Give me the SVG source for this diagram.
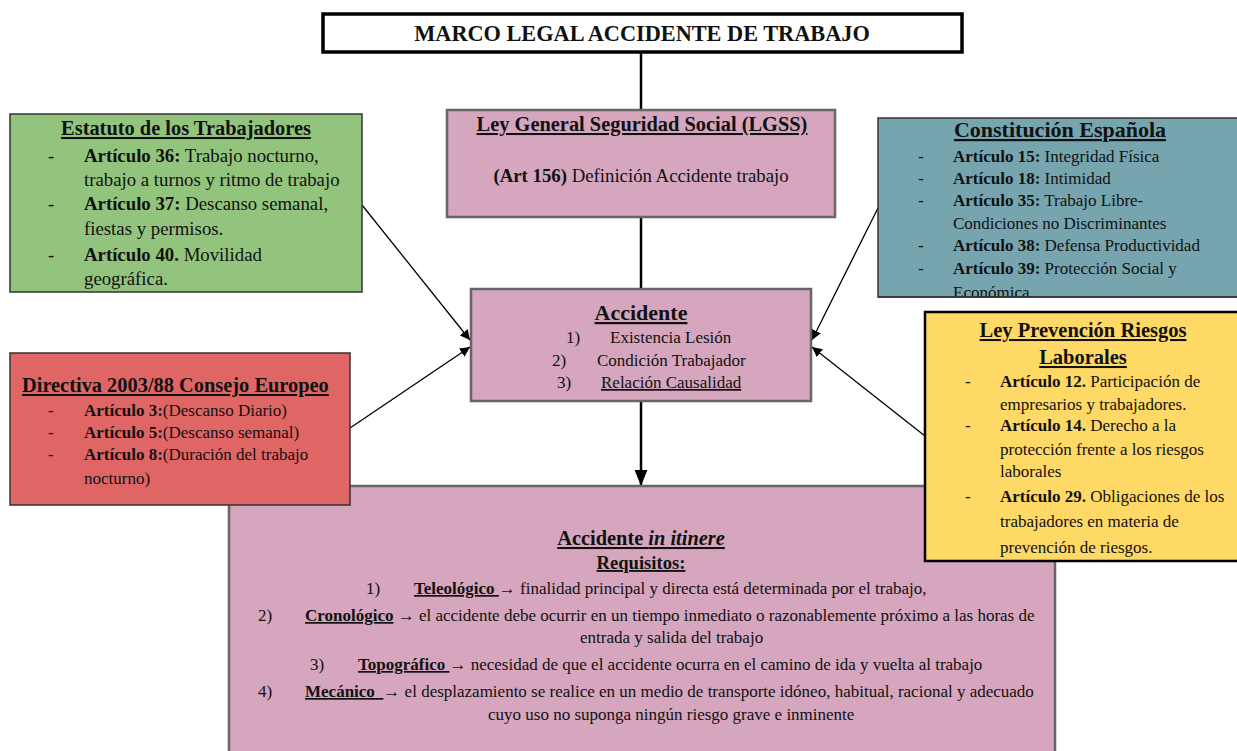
<svg xmlns="http://www.w3.org/2000/svg" width="1237" height="751" viewBox="0 0 1237 751">
<style>
text{font-family:"Liberation Serif","Times New Roman",serif;fill:#111;}
.b{font-weight:bold;}
.u{text-decoration:underline;}
.t19{font-size:18.8px;}
.t17{font-size:17px;}
.pink{fill:#d5a6bd;stroke:#666;stroke-width:2.5;}
.con{stroke:#000;stroke-width:1.3;fill:none;}
.thick{stroke:#000;stroke-width:2.5;fill:none;}
</style>
<defs>
<marker id="ah" viewBox="0 0 10 10" refX="10" refY="5" markerWidth="10" markerHeight="10" markerUnits="userSpaceOnUse" orient="auto">
<path d="M0,0 L10,5 L0,10 z" fill="#000"/>
</marker>
<marker id="ahb" viewBox="0 0 10 10" refX="10" refY="5" markerWidth="16" markerHeight="16" markerUnits="userSpaceOnUse" orient="auto">
<path d="M0,1 L10,5 L0,9 z" fill="#000"/>
</marker>
<clipPath id="clipBlue"><rect x="878" y="118" width="362" height="179"/></clipPath>
</defs>

<g id="connectors">
<line class="thick" x1="641" y1="52" x2="641" y2="110"/>
<line class="thick" x1="641" y1="217" x2="641" y2="289"/>
<line class="thick" x1="641" y1="401" x2="641" y2="486" marker-end="url(#ahb)"/>
<line class="con" x1="362" y1="205" x2="470" y2="340" marker-end="url(#ah)"/>
<line class="con" x1="350" y1="428" x2="470" y2="347" marker-end="url(#ah)"/>
<line class="con" x1="878" y1="208" x2="812" y2="340" marker-end="url(#ah)"/>
<line class="con" x1="925" y1="436" x2="812" y2="347" marker-end="url(#ah)"/>
</g>

<g id="title">
<rect x="323" y="14" width="639" height="38" fill="#fff" stroke="#000" stroke-width="3.5"/>
<text x="642" y="41" text-anchor="middle" class="b" font-size="22.3">MARCO LEGAL ACCIDENTE DE TRABAJO</text>
</g>

<g id="lgss">
<rect class="pink" x="447" y="110" width="388" height="107"/>
<text x="642" y="131" text-anchor="middle" class="b u" font-size="20.4">Ley General Seguridad Social (LGSS)</text>
<text x="641" y="182" text-anchor="middle" class="t19"><tspan class="b">(Art 156)</tspan> Definición Accidente trabajo</text>
</g>

<g id="accidente">
<rect class="pink" x="471" y="289" width="340" height="112"/>
<text x="641" y="320" text-anchor="middle" class="b u" font-size="22">Accidente</text>
<text x="566" y="343" class="t17">1)</text>
<text x="610" y="343" class="t17">Existencia Lesión</text>
<text x="552" y="366" class="t17">2)</text>
<text x="597" y="366" class="t17">Condición Trabajador</text>
<text x="557" y="388" class="t17">3)</text>
<text x="601" y="388" class="t17 u">Relación Causalidad</text>
</g>

<g id="itinere">
<rect class="pink" x="229" y="486" width="826" height="270"/>
<text x="641" y="545" text-anchor="middle" class="b u" font-size="20.4">Accidente <tspan font-style="italic">in itinere</tspan></text>
<text x="641" y="569" text-anchor="middle" class="b u" font-size="18.6">Requisitos:</text>
<text x="366" y="594" class="t17">1)</text>
<text x="414" y="594" class="t17" xml:space="preserve"><tspan class="b u">Teleológico </tspan>→ finalidad principal y directa está determinada por el trabajo,</text>
<text x="258" y="621" class="t17">2)</text>
<text x="305" y="621" class="t17"><tspan class="b u">Cronológico</tspan> → el accidente debe ocurrir en un tiempo inmediato o razonablemente próximo a las horas de</text>
<text x="580" y="643" class="t17">entrada y salida del trabajo</text>
<text x="310" y="670" class="t17">3)</text>
<text x="358" y="670" class="t17" xml:space="preserve"><tspan class="b u">Topográfico </tspan>→ necesidad de que el accidente ocurra en el camino de ida y vuelta al trabajo</text>
<text x="258" y="697" class="t17">4)</text>
<text x="305" y="697" class="t17" xml:space="preserve"><tspan class="b u">Mecánico  </tspan>→ el desplazamiento se realice en un medio de transporte idóneo, habitual, racional y adecuado</text>
<text x="488" y="720" class="t17">cuyo uso no suponga ningún riesgo grave e inminente</text>
</g>

<g id="estatuto">
<rect x="10" y="114" width="352" height="178" fill="#93c47d" stroke="#333" stroke-width="1.5"/>
<text x="186" y="135" text-anchor="middle" class="b u" font-size="20.4">Estatuto de los Trabajadores</text>
<text x="48" y="162" class="t19">-</text>
<text x="84" y="162" class="t19"><tspan class="b">Artículo 36:</tspan> Trabajo nocturno,</text>
<text x="84" y="186" class="t19">trabajo a turnos y ritmo de trabajo</text>
<text x="48" y="210" class="t19">-</text>
<text x="84" y="210" class="t19"><tspan class="b">Artículo 37:</tspan> Descanso semanal,</text>
<text x="84" y="235" class="t19">fiestas y permisos.</text>
<text x="48" y="261" class="t19">-</text>
<text x="84" y="261" class="t19"><tspan class="b">Artículo 40.</tspan> Movilidad</text>
<text x="84" y="285" class="t19">geográfica.</text>
</g>

<g id="constitucion">
<rect x="878" y="118" width="362" height="179" fill="#76a5af" stroke="#333" stroke-width="1.5"/>
<text x="1060" y="137" text-anchor="middle" class="b u" font-size="22">Constitución Española</text>
<text x="918" y="162" class="t17">-</text>
<text x="953" y="162" class="t17"><tspan class="b">Artículo 15:</tspan> Integridad Física</text>
<text x="918" y="184" class="t17">-</text>
<text x="953" y="184" class="t17"><tspan class="b">Artículo 18:</tspan> Intimidad</text>
<text x="918" y="206" class="t17">-</text>
<text x="953" y="206" class="t17"><tspan class="b">Artículo 35:</tspan> Trabajo Libre-</text>
<text x="953" y="229" class="t17">Condiciones no Discriminantes</text>
<text x="918" y="251" class="t17">-</text>
<text x="953" y="251" class="t17"><tspan class="b">Artículo 38:</tspan> Defensa Productividad</text>
<text x="918" y="274" class="t17">-</text>
<text x="953" y="274" class="t17"><tspan class="b">Artículo 39:</tspan> Protección Social y</text>
<text x="953" y="297.5" class="t17" clip-path="url(#clipBlue)">Económica</text>
<line x1="878" y1="297" x2="1240" y2="297" stroke="#333" stroke-width="1.5"/>
</g>

<g id="directiva">
<rect x="10" y="353" width="340" height="152" fill="#e06666" stroke="#333" stroke-width="1.5"/>
<text x="22" y="392" class="b u" font-size="20.4">Directiva 2003/88 Consejo Europeo</text>
<text x="48" y="416" class="t17">-</text>
<text x="84" y="416" class="t17"><tspan class="b">Artículo 3:</tspan>(Descanso Diario)</text>
<text x="48" y="438" class="t17">-</text>
<text x="84" y="438" class="t17"><tspan class="b">Artículo 5:</tspan>(Descanso semanal)</text>
<text x="48" y="460" class="t17">-</text>
<text x="84" y="460" class="t17"><tspan class="b">Artículo 8:</tspan>(Duración del trabajo</text>
<text x="84" y="484" class="t17">nocturno)</text>
</g>

<g id="prevencion">
<rect x="925" y="312" width="315" height="249" fill="#ffd966" stroke="#000" stroke-width="2.5"/>
<text x="1083" y="337" text-anchor="middle" class="b u" font-size="20.5">Ley Prevención Riesgos</text>
<text x="1083" y="364" text-anchor="middle" class="b u" font-size="20.5">Laborales</text>
<text x="965" y="387" class="t17">-</text>
<text x="1000" y="387" class="t17"><tspan class="b">Artículo 12.</tspan> Participación de</text>
<text x="1000" y="410" class="t17">empresarios y trabajadores.</text>
<text x="965" y="431" class="t17">-</text>
<text x="1000" y="431" class="t17"><tspan class="b">Artículo 14.</tspan> Derecho a la</text>
<text x="1000" y="455" class="t17">protección frente a los riesgos</text>
<text x="1000" y="477" class="t17">laborales</text>
<text x="965" y="502" class="t17">-</text>
<text x="1000" y="502" class="t17"><tspan class="b">Artículo 29.</tspan> Obligaciones de los</text>
<text x="1000" y="527" class="t17">trabajadores en materia de</text>
<text x="1000" y="553" class="t17">prevención de riesgos.</text>
</g>
</svg>
